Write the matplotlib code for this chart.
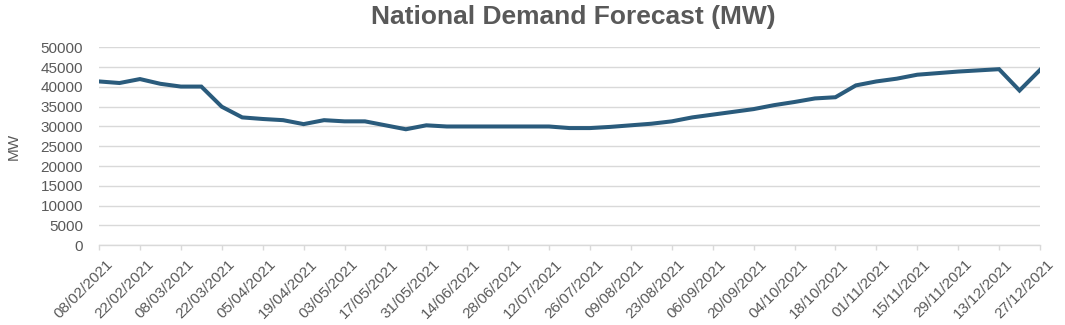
import matplotlib
matplotlib.use("Agg")
import matplotlib.pyplot as plt
import matplotlib.transforms as mtransforms
import pandas as pd

# Weekly national demand forecast (MW), weeks commencing 08/02/2021 .. 27/12/2021
week_start = "2021-02-08"
n_weeks = 47
demand_mw = [
    41400, 41000, 42000, 40800, 40100, 40100, 35000, 32300, 31900, 31600,
    30600, 31600, 31300, 31300, 30300, 29300, 30300, 30000, 30000, 30000,
    30000, 30000, 30000, 29600, 29600, 29900, 30300, 30700, 31300, 32300,
    33000, 33700, 34400, 35400, 36200, 37100, 37400, 40400, 41400, 42100,
    43100, 43500, 43900, 44200, 44500, 39100, 44300,
]
tick_labels = [
    "08/02/2021", "22/02/2021", "08/03/2021", "22/03/2021", "05/04/2021",
    "19/04/2021", "03/05/2021", "17/05/2021", "31/05/2021", "14/06/2021",
    "28/06/2021", "12/07/2021", "26/07/2021", "09/08/2021", "23/08/2021",
    "06/09/2021", "20/09/2021", "04/10/2021", "18/10/2021", "01/11/2021",
    "15/11/2021", "29/11/2021", "13/12/2021", "27/12/2021",
]
y_ticks = list(range(0, 50001, 5000))

weeks = pd.date_range(week_start, periods=n_weeks, freq="7D")
tick_dates = pd.to_datetime(tick_labels, format="%d/%m/%Y")

plt.rcParams["font.family"] = ["Liberation Sans", "DejaVu Sans"]
text_col = "#595959"
grid_col = "#d9d9d9"

fig = plt.figure(figsize=(10.65, 3.25), dpi=100)
ax = fig.add_axes([0.093, 0.246, 0.8835, 0.608])

ax.plot(weeks, demand_mw, color="#2a5b7c", linewidth=2.9, solid_joinstyle="miter")

ax.set_xlim(weeks[0], weeks[-1])
ax.set_ylim(0, 50000)
ax.set_yticks(y_ticks)
ax.set_yticklabels([str(v) for v in y_ticks])
ax.set_xticks(tick_dates)

ax.grid(axis="y", color=grid_col, linewidth=1.0)
ax.set_axisbelow(True)
for side in ("top", "right", "left"):
    ax.spines[side].set_visible(False)
ax.spines["bottom"].set_color(grid_col)
ax.spines["bottom"].set_linewidth(1.0)

ax.tick_params(axis="y", length=0, pad=11.5, labelsize=11, labelcolor=text_col)
ax.tick_params(axis="x", length=3.5, color=grid_col, width=1.0, pad=8.5,
               labelsize=11, labelcolor=text_col)

ax.set_xticklabels(tick_labels, rotation=45, ha="right", va="center",
                   rotation_mode="anchor")
# rotated date labels sit a little to the right of their ticks
shift = mtransforms.ScaledTranslation(8 / 72, 0, fig.dpi_scale_trans)
for lbl in ax.get_xticklabels():
    lbl.set_transform(lbl.get_transform() + shift)

ax.set_ylabel("MW", color=text_col, fontsize=11)
ax.yaxis.set_label_coords(-0.083, 0.5)
fig.text(0.538, 0.948, "National Demand Forecast (MW)", ha="center", va="center",
         fontsize=19, fontweight="bold", color=text_col)

fig.savefig("out.png", dpi=100)
